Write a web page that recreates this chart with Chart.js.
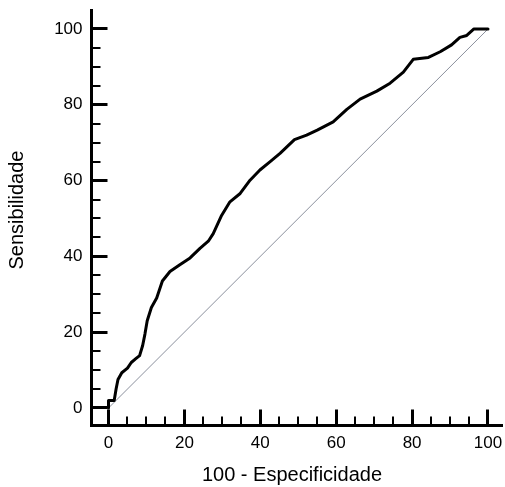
<!DOCTYPE html>
<html>
<head>
<meta charset="utf-8">
<script src="https://cdn.jsdelivr.net/npm/chart.js@4"></script>
<style>
  html, body { margin: 0; padding: 0; background: #fff; }
  #wrap { width: 505px; height: 487px; }
</style>
</head>
<body>
<div id="wrap"><canvas id="c" width="505" height="487"></canvas></div>
<script>
// ---- data ----
const fpr = [0, 0, 1.5, 2, 2.5, 3.5, 5, 6, 7.2, 8.2, 9, 9.6, 10.2, 11.3, 12.7, 14.2, 16.2, 18.8, 21.5, 24.1, 26.3, 27.6, 29.8, 32, 34.7, 37.3, 39.9, 42.6, 45.2, 49, 52.2, 55, 59.2, 62.8, 66.3, 70.7, 74.2, 77.7, 80.3, 84.3, 87.4, 90.4, 92.6, 94.4, 96.3, 100];
const tpr = [0, 2, 2, 5, 7.5, 9.3, 10.5, 12, 13, 13.8, 16.5, 19.5, 23, 26.5, 29, 33.5, 36, 37.8, 39.6, 42.1, 44, 46, 50.8, 54.4, 56.6, 60.1, 62.8, 65, 67.2, 70.8, 72, 73.3, 75.5, 78.8, 81.5, 83.6, 85.7, 88.6, 92, 92.5, 94, 95.8, 97.8, 98.3, 100, 100];
const refX = [0, 100];
const refY = [0, 100];
const xTicks = [0, 20, 40, 60, 80, 100];
const yTicks = [0, 20, 40, 60, 80, 100];
const minorStep = 5;
const xTitle = '100 - Especificidade';
const yTitle = 'Sensibilidade';

const FONT = '"Liberation Sans", Arial, sans-serif';

const rocPoints = fpr.map((x, i) => ({ x: x, y: tpr[i] }));
const refPoints = refX.map((x, i) => ({ x: x, y: refY[i] }));

const axisDecor = {
  id: 'axisDecor',
  afterDraw(chart) {
    const ctx = chart.ctx;
    const xs = chart.scales.x, ys = chart.scales.y;
    const axisY = chart.chartArea.bottom, axisX = chart.chartArea.left;
    ctx.save();
    ctx.strokeStyle = '#000';
    ctx.lineCap = 'butt';
    const drawX = (v, len, w) => {
      const p = Math.round(xs.getPixelForValue(v) - w / 2) + w / 2;
      ctx.lineWidth = w;
      ctx.beginPath(); ctx.moveTo(p, axisY); ctx.lineTo(p, axisY - len); ctx.stroke();
    };
    const drawY = (v, len, w) => {
      const p = Math.round(ys.getPixelForValue(v) - w / 2) + w / 2;
      ctx.lineWidth = w;
      ctx.beginPath(); ctx.moveTo(axisX, p); ctx.lineTo(axisX + len, p); ctx.stroke();
    };
    for (let v = xTicks[0]; v <= xTicks[xTicks.length - 1]; v += minorStep) {
      if (xTicks.includes(v)) drawX(v, 16, 3); else drawX(v, 9, 2);
    }
    for (let v = yTicks[0]; v <= yTicks[yTicks.length - 1]; v += minorStep) {
      if (yTicks.includes(v)) drawY(v, 16, 3); else drawY(v, 9, 2);
    }
    // axis titles
    ctx.fillStyle = '#000';
    ctx.font = '20px ' + FONT;
    ctx.textAlign = 'center';
    ctx.textBaseline = 'middle';
    ctx.fillText(xTitle, 292, 475);
    ctx.translate(17, 210);
    ctx.rotate(-Math.PI / 2);
    ctx.fillText(yTitle, 0, 0);
    ctx.restore();
  }
};

const noPad = s => { s.paddingTop = 0; s.paddingBottom = 0; s.paddingLeft = 0; s.paddingRight = 0; };

new Chart(document.getElementById('c'), {
  type: 'scatter',
  data: {
    datasets: [
      {
        data: refPoints,
        showLine: true,
        borderColor: '#8a8f9c',
        borderWidth: 1,
        pointRadius: 0,
        fill: false,
        order: 2
      },
      {
        data: rocPoints,
        showLine: true,
        borderColor: '#000',
        borderWidth: 3,
        pointRadius: 0,
        tension: 0,
        borderJoinStyle: 'round',
        borderCapStyle: 'round',
        fill: false,
        order: 1
      }
    ]
  },
  options: {
    responsive: false,
    devicePixelRatio: 1,
    animation: false,
    events: [],
    layout: { padding: { top: 10, right: 3, left: 0, bottom: 0 } },
    plugins: { legend: { display: false }, tooltip: { enabled: false } },
    scales: {
      x: {
        type: 'linear',
        min: -4.48,
        max: 103.69,
        afterFit(s) { s.height = 61.5; noPad(s); },
        afterBuildTicks(s) { s.ticks = xTicks.map(v => ({ value: v })); },
        grid: { display: false, drawTicks: false },
        border: { display: true, color: '#000', width: 3 },
        ticks: {
          padding: 8,
          color: '#000',
          font: { family: FONT, size: 17 },
          maxRotation: 0,
          autoSkip: false,
          callback: v => String(v)
        },
        title: { display: false }
      },
      y: {
        type: 'linear',
        min: -4.62,
        max: 105.01,
        afterFit(s) { s.width = 91.5; noPad(s); },
        afterBuildTicks(s) { s.ticks = yTicks.map(v => ({ value: v })); },
        grid: { display: false, drawTicks: false },
        border: { display: true, color: '#000', width: 3 },
        ticks: {
          padding: 9,
          color: '#000',
          font: { family: FONT, size: 17 },
          autoSkip: false,
          callback: v => String(v)
        },
        title: { display: false }
      }
    }
  },
  plugins: [axisDecor]
});
</script>
</body>
</html>
